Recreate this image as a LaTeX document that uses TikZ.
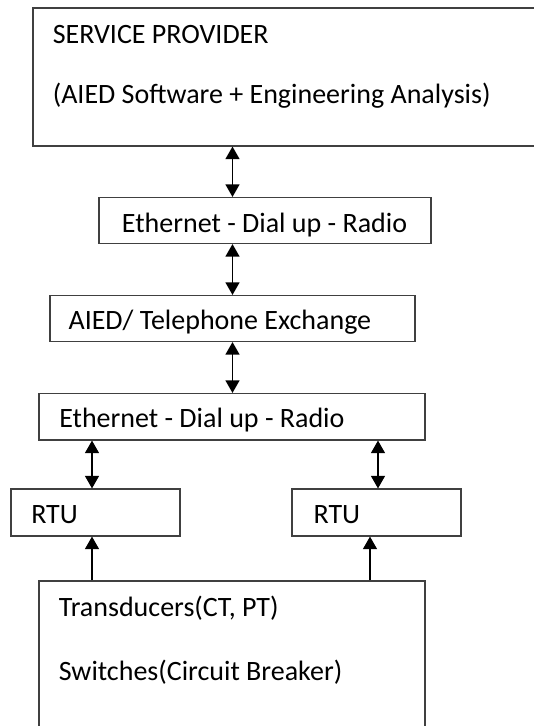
\documentclass[tikz,border=0pt]{standalone}
\usepackage{fontspec}
\setmainfont{Carlito}
\usetikzlibrary{arrows.meta,fit}

\tikzset{
  box/.style={draw=black!75, line width=0.8pt, inner sep=0pt},
  txt/.style={anchor=base west, inner sep=0pt, font=\fontsize{21}{25}\selectfont},
  biarrow/.style={{Triangle[length=9.5pt,width=10.5pt]}-{Triangle[length=9.5pt,width=10.5pt]}, line width=1.1pt},
  uparrow/.style={-{Triangle[length=9.5pt,width=10.5pt]}, line width=1.1pt}
}

\begin{document}
\begin{tikzpicture}[x=0.75pt,y=-0.75pt]
\clip (0,0) rectangle (534,726);
\fill[white] (0,0) rectangle (534,726);
\node[box, fit={(33,8) (545,146)}] (prov) {};
\node[box, fit={(99,197.5) (431,243.5)}] (link1) {};
\node[box, fit={(50,295.5) (415,341.5)}] (exch) {};
\node[box, fit={(39,393.5) (425,440)}] (link2) {};
\node[box, fit={(11,489) (180,536)}] (rtuA) {};
\node[box, fit={(292,489) (461,536)}] (rtuB) {};
\node[box, fit={(39,581) (425,745)}] (field) {};
\coordinate (colM) at (232.5,0);
\coordinate (colL) at (92,0);
\coordinate (colR) at (378,0);
\coordinate (colS) at (370,0);
\draw[biarrow] (prov.south -| colM) -- (link1.north -| colM);
\draw[biarrow] (link1.south -| colM) -- (exch.north -| colM);
\draw[biarrow] (exch.south -| colM) -- (link2.north -| colM);
\draw[biarrow] (link2.south -| colL) -- (rtuA.north -| colL);
\draw[biarrow] (link2.south -| colR) -- (rtuB.north -| colR);
\draw[uparrow] (field.north -| colL) -- (rtuA.south -| colL);
\draw[uparrow] (field.north -| colS) -- (rtuB.south -| colS);
\node[txt] (provA) at (52.5,43.3) {SERVICE PROVIDER};
\node[txt] (provB) at (52.5,103) {(AIED Software + Engineering Analysis)};
\node[txt] (link1t) at (121.7,232.5) {Ethernet - Dial up - Radio};
\node[txt] (excht) at (68.3,329.3) {AIED/ Telephone Exchange};
\node[txt] (link2t) at (59,427) {Ethernet - Dial up - Radio};
\node[txt] (rtuAt) at (31,523.3) {RTU};
\node[txt] (rtuBt) at (313.3,523.3) {RTU};
\node[txt] (fieldA) at (58.6,616) {Transducers(CT, PT)};
\node[txt] (fieldB) at (58.6,680) {Switches(Circuit Breaker)};
\end{tikzpicture}
\end{document}
